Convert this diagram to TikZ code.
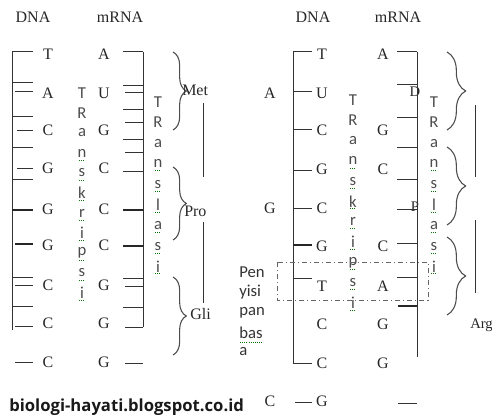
\documentclass[tikz,border=0pt]{standalone}
\usepackage{fontspec}
\setmainfont{Liberation Serif}
\newfontfamily\calib{Carlito}
\newfontfamily\urlfont{Open Sans}
\usetikzlibrary{decorations.pathreplacing}
\begin{document}
\begin{tikzpicture}[x=0.75pt,y=-0.75pt,
  ln/.style={line width=0.75pt, draw=black!80},
  thk/.style={line width=1.5pt, draw=black!85},
  base/.style={font=\fontsize{12}{14}\selectfont, text=black!85, inner sep=0pt},
  small/.style={font=\fontsize{11}{12}\selectfont, text=black!85, inner sep=0pt},
  vt/.style={font=\calib\fontsize{12.5}{14}\selectfont, text=black!70, inner sep=0pt},
  sq/.style={draw=green!45!black, densely dotted, line width=0.6pt},
  brc/.style={decorate, decoration={brace, amplitude=#1}, line width=0.8pt, draw=black!70},
  dd/.style={draw=black!60, line width=0.6pt, dash pattern=on 4pt off 2pt on 1pt off 2pt}]
\useasboundingbox (0,0) rectangle (492,417);

% headers
\node[base] (dnaL) at (33,17) {DNA};
\node[base] (mrnaL) at (120,17) {mRNA};
\node[base] (dnaR) at (313,17) {DNA};
\node[base] (mrnaR) at (398,17) {mRNA};

% ---------- left panel ----------
\foreach \d/\m/\y [count=\i] in {T/A/54, A/U/93, C/G/130, G/C/168, G/C/209, G/C/245, C/G/285, C/G/323, C/G/362}{
  \node[base] (ld\i) at (48,\y) {\d};
  \node[base] (lm\i) at (104,\y) {\m};
}
\draw[ln] (12,52) -- (12,330);
\draw[ln] (143,52) -- (143,327);
\foreach \xs/\y in {12/52, 12/83, 15/92, 12/117, 17/131, 12/148, 17/168, 12/179, 12/277, 15/285, 12/306, 15/326, 15/362}
  \draw[ln] (\xs,\y) -- (33,\y);
\draw[thk] (12,210) -- (33,210);
\draw[thk] (15,244) -- (33,244);
\foreach \xs/\y in {123/52, 123/86, 125/93, 123/110, 125/123, 123/140, 125/153, 123/171, 123/278, 125/286, 123/307, 125/327, 125/363}
  \draw[ln] (\xs,\y) -- (143,\y);
\draw[thk] (123,210) -- (143,210);
\draw[thk] (123,246) -- (143,246);

% vertical words left
\foreach \c [count=\i from 0] in {T,R,a,n,s,k,r,i,p,s,i}{
  \node[vt] (tkL\i) at (82,93+20*\i) {\c};
  \ifnum\i>2 \draw[sq] (79,100+20*\i) -- (85,100+20*\i); \fi
}
\foreach \c [count=\i from 0] in {T,R,a,n,s,l,a,s,i}{
  \node[vt] (tlL\i) at (158,102+20.6*\i) {\c};
  \ifnum\i>2 \draw[sq] (155,109+20.6*\i) -- (161,109+20.6*\i); \fi
}

% braces left
\draw[brc=10pt] (173,52) -- (173,130);
\draw[brc=10pt] (173,167) -- (173,240);
\draw[brc=10pt] (173,277) -- (173,355);
\node[base, anchor=west] (met) at (182,90) {Met};
\node[base, anchor=west] (pro) at (184,211) {Pro};
\node[base, anchor=west] (gli) at (190,314) {Gli};
\draw[ln] (203,103) -- (203,177);
\draw[ln] (203,222) -- (203,303);

% ---------- right panel ----------
\foreach \d/\y [count=\i] in {T/54, U/93, C/130, G/169, C/208, G/246, T/286, C/324, C/363, G/401}
  \node[base] (rd\i) at (322,\y) {\d};
\foreach \m/\y [count=\i] in {A/54, G/130, C/169, C/246, A/286, G/324, G/363}
  \node[base] (rm\i) at (383,\y) {\m};
\node[base] (xa) at (270,93) {A};
\node[base] (xg) at (270,208) {G};
\node[base] (xc) at (270,401) {C};
\node[small] (gl1) at (415,92) {D};
\node[small] (gl2) at (415,207) {P};

\draw[ln] (293,52) -- (293,363) -- (312,363);
\draw[ln] (417,52) -- (417,357);
\foreach \y in {52, 92, 130, 170, 208, 278}
  \draw[ln] (293,\y) -- (312,\y);
\draw[thk] (293,245) -- (312,245);
\draw[ln] (295,402) -- (312,402);
\foreach \y in {52, 85, 118, 148, 179, 209, 243, 277}
  \draw[ln] (397,\y) -- (417,\y);
\draw[thk] (398,306) -- (417,306);
\draw[ln] (398,403) -- (417,403);

% vertical words right
\foreach \c [count=\i from 0] in {T,R,a,n,s,k,r,i,p,s,i}{
  \node[vt] (tkR\i) at (353,100+20.3*\i) {\c};
  \ifnum\i>2 \draw[sq] (350,107+20.3*\i) -- (356,107+20.3*\i); \fi
}
\foreach \c [count=\i from 0] in {T,R,a,n,s,l,a,s,i}{
  \node[vt] (tlR\i) at (434,102+20.6*\i) {\c};
  \ifnum\i>2 \draw[sq] (431,109+20.6*\i) -- (437,109+20.6*\i); \fi
}

% braces right
\draw[brc=14pt] (447,52) -- (447,130);
\draw[brc=14pt] (447,147) -- (447,225);
\draw[brc=14pt] (447,237) -- (447,315);
\draw[ln] (475,105) -- (475,177);
\draw[ln] (475,220) -- (475,293);
\node[base, anchor=west, font=\fontsize{11}{12}\selectfont] (arg) at (470,325) {Arg};

% highlighted box
\draw[dd] (277,262) rectangle (428,300);

% note text
\foreach \t/\y [count=\i] in {Pen/272, yisi/292, pan/313, bas/333, a/352}
  \node[vt, anchor=west, text=black!80] (pn\i) at (239,\y) {\t};
\draw[sq] (240,342) -- (262,342);

% url
\node[font=\urlfont\bfseries\fontsize{12.5}{14}\selectfont, text=black!90, anchor=west, inner sep=0pt] (url) at (9,407) {biologi-hayati.blogspot.co.id};
\end{tikzpicture}
\end{document}
